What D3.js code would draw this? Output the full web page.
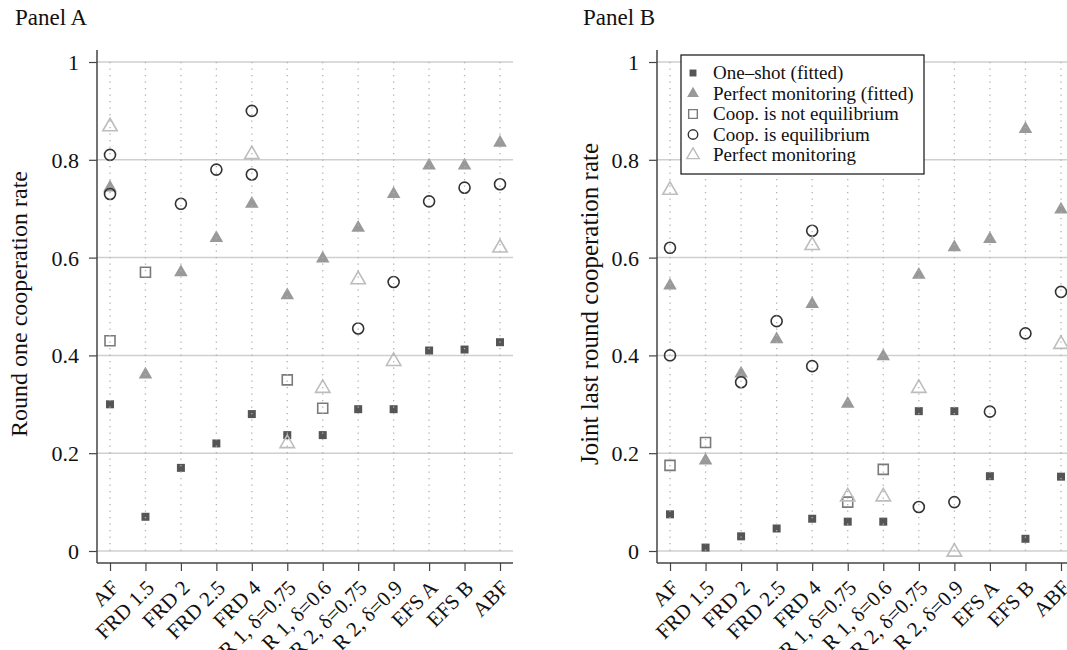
<!DOCTYPE html>
<html>
<head>
<meta charset="utf-8">
<script src="https://cdn.jsdelivr.net/npm/d3@7"></script>
<style>
  body { margin: 0; background: #fff; }
  svg text { font-family: "Liberation Serif", "DejaVu Serif", serif; fill: #111; }
</style>
</head>
<body>
<svg id="chart" width="1067" height="650"></svg>
<script>
var categories = ['AF', 'FRD 1.5', 'FRD 2', 'FRD 2.5', 'FRD 4', 'R 1, δ=0.75',
  'R 1, δ=0.6', 'R 2, δ=0.75', 'R 2, δ=0.9', 'EFS A', 'EFS B', 'ABF'];
var yTicks = [0, 0.2, 0.4, 0.6, 0.8, 1];

// Panel A: round one cooperation rate
var oneShotA = [0.30, 0.07, 0.17, 0.22, 0.28, 0.237, 0.237, 0.29, 0.29, 0.41, 0.412, 0.427];
var perfFitA = [0.745, 0.363, 0.572, 0.642, 0.712, 0.525, 0.60, 0.663, 0.732, 0.79, 0.79, 0.837];
var notEqA = [['AF', 0.43], ['FRD 1.5', 0.57], ['R 1, δ=0.75', 0.35], ['R 1, δ=0.6', 0.292]];
var eqA = [['AF', 0.81], ['AF', 0.73], ['FRD 2', 0.71], ['FRD 2.5', 0.78], ['FRD 4', 0.90],
  ['FRD 4', 0.77], ['R 2, δ=0.75', 0.455], ['R 2, δ=0.9', 0.55], ['EFS A', 0.715],
  ['EFS B', 0.743], ['ABF', 0.75]];
var perfA = [['AF', 0.87], ['FRD 4', 0.813], ['R 1, δ=0.75', 0.222], ['R 1, δ=0.6', 0.335],
  ['R 2, δ=0.75', 0.557], ['R 2, δ=0.9', 0.39], ['ABF', 0.622]];

// Panel B: joint last round cooperation rate
var oneShotB = [0.075, 0.007, 0.03, 0.046, 0.066, 0.06, 0.06, 0.286, 0.286, 0.153, 0.025, 0.152];
var perfFitB = [0.545, 0.187, 0.365, 0.435, 0.507, 0.303, 0.40, 0.567, 0.623, 0.64, 0.865, 0.70];
var notEqB = [['AF', 0.175], ['FRD 1.5', 0.222], ['R 1, δ=0.75', 0.10], ['R 1, δ=0.6', 0.167]];
var eqB = [['AF', 0.62], ['AF', 0.40], ['FRD 2', 0.345], ['FRD 2.5', 0.47], ['FRD 4', 0.655],
  ['FRD 4', 0.378], ['R 2, δ=0.75', 0.09], ['R 2, δ=0.9', 0.10], ['EFS A', 0.285],
  ['EFS B', 0.445], ['ABF', 0.53]];
var perfB = [['AF', 0.74], ['FRD 4', 0.627], ['R 1, δ=0.75', 0.113], ['R 1, δ=0.6', 0.113],
  ['R 2, δ=0.75', 0.335], ['R 2, δ=0.9', 0.0], ['ABF', 0.425]];

var legendLabels = ['One–shot (fitted)', 'Perfect monitoring (fitted)',
  'Coop. is not equilibrium', 'Coop. is equilibrium', 'Perfect monitoring'];

var svg = d3.select('#chart');

var styles = {
  oneShot: { shape: d3.symbolSquare, size: 64, fill: '#555', stroke: 'none' },
  perfFit: { shape: d3.symbolTriangle, size: 80, fill: '#999', stroke: 'none' },
  notEq: { shape: d3.symbolSquare, size: 100, fill: 'none', stroke: '#7a7a7a' },
  eq: { shape: d3.symbolCircle, size: 95, fill: 'none', stroke: '#333' },
  perf: { shape: d3.symbolTriangle, size: 90, fill: 'none', stroke: '#bdbdbd' }
};
var order = ['oneShot', 'perfFit', 'notEq', 'eq', 'perf'];

function symbolPath(key, scale) {
  return d3.symbol().type(styles[key].shape).size(styles[key].size * (scale || 1))();
}

function drawPanel({ left, right, title, titleX, yLabel, yLabelX, yLabelSize, series, legend }) {
  var top = 50, bottom = 563;
  var g = svg.append('g');
  var x = d3.scalePoint().domain(categories).range([left + 13, right - 13]);
  var y = d3.scaleLinear().domain([0, 1]).range([551, 62]);

  g.append('text')
    .attr('x', titleX).attr('y', 25)
    .style('font-size', '23px')
    .text(title);

  // horizontal gridlines
  g.selectAll('.hgrid').data(yTicks).enter().append('line')
    .attr('x1', left).attr('x2', right)
    .attr('y1', y).attr('y2', y)
    .attr('stroke', '#cfcfcf').attr('stroke-width', 1.5);

  // markers
  order.forEach(function (key) {
    var st = styles[key];
    g.selectAll('.m-' + key).data(series[key]).enter().append('path')
      .attr('d', symbolPath(key))
      .attr('transform', function (d, i) {
        var cat = Array.isArray(d) ? d[0] : categories[i];
        var v = Array.isArray(d) ? d[1] : d;
        var yy = y(v) + (st.shape === d3.symbolTriangle ? 1 : 0);
        return 'translate(' + x(cat) + ',' + yy + ')';
      })
      .attr('fill', st.fill)
      .attr('stroke', st.stroke)
      .attr('stroke-width', 1.6);
  });

  // vertical dotted gridlines, drawn over the markers
  g.selectAll('.vgrid').data(categories).enter().append('line')
    .attr('x1', function (d) { return x(d); })
    .attr('x2', function (d) { return x(d); })
    .attr('y1', y(1)).attr('y2', y(0))
    .attr('stroke', '#b0b0b0').attr('stroke-width', 1.3)
    .attr('stroke-dasharray', '1.3 5.2');

  // y axis
  var yAxis = d3.axisLeft(y).tickValues(yTicks).tickSize(8).tickPadding(10)
    .tickFormat(function (d) { return d === 0 || d === 1 ? d : d3.format('.1f')(d); });
  var ya = g.append('g').attr('transform', 'translate(' + left + ',0)').call(yAxis);
  ya.select('.domain').attr('d', 'M0,' + top + 'V' + bottom);

  // x axis
  var xAxis = d3.axisBottom(x).tickSize(8).tickFormat('');
  var xa = g.append('g').attr('transform', 'translate(0,' + bottom + ')').call(xAxis);
  xa.select('.domain').attr('d', 'M' + left + ',0H' + right);

  [ya, xa].forEach(function (a) {
    a.selectAll('.domain').attr('stroke', '#444').attr('stroke-width', 1.5);
    a.selectAll('.tick line').attr('stroke', '#444').attr('stroke-width', 1.2);
  });
  ya.selectAll('.tick text').style('font-size', '22px').attr('fill', '#111')
    .attr('dy', '0.34em')
    .style('font-family', '"Liberation Serif", serif');

  g.selectAll('.xlab').data(categories).enter().append('text')
    .attr('transform', function (d) {
      return 'translate(' + (x(d) + 10) + ',' + (bottom + 26) + ') rotate(-45)';
    })
    .attr('text-anchor', 'end')
    .style('font-size', '21px')
    .text(function (d) { return d; });

  g.append('text')
    .attr('transform', 'translate(' + yLabelX + ',' + 304 + ') rotate(-90)')
    .attr('text-anchor', 'middle')
    .style('font-size', yLabelSize + 'px')
    .text(yLabel);

  if (legend) {
    var lg = g.append('g').attr('transform', 'translate(681,55)');
    lg.append('rect').attr('width', 243).attr('height', 119)
      .attr('fill', '#fff').attr('stroke', '#111').attr('stroke-width', 1.2);
    var items = lg.selectAll('.li').data(order).enter().append('g')
      .attr('transform', function (d, i) { return 'translate(0,' + (18 + i * 20.5) + ')'; });
    items.append('path')
      .attr('d', function (d) { return symbolPath(d, 0.75); })
      .attr('transform', 'translate(12,0)')
      .attr('fill', function (d) { return styles[d].fill; })
      .attr('stroke', function (d) { return styles[d].stroke; })
      .attr('stroke-width', 1.4);
    items.append('text')
      .attr('x', 32).attr('y', 6)
      .style('font-size', '19px')
      .text(function (d, i) { return legendLabels[i]; });
  }
}

drawPanel({
  left: 97, right: 513, title: 'Panel A', titleX: 15,
  yLabel: 'Round one cooperation rate', yLabelX: 27, yLabelSize: 24,
  series: { oneShot: oneShotA, perfFit: perfFitA, notEq: notEqA, eq: eqA, perf: perfA }
});
drawPanel({
  left: 657, right: 1074, title: 'Panel B', titleX: 583,
  yLabel: 'Joint last round cooperation rate', yLabelX: 598, yLabelSize: 25,
  series: { oneShot: oneShotB, perfFit: perfFitB, notEq: notEqB, eq: eqB, perf: perfB },
  legend: true
});
</script>
</body>
</html>
